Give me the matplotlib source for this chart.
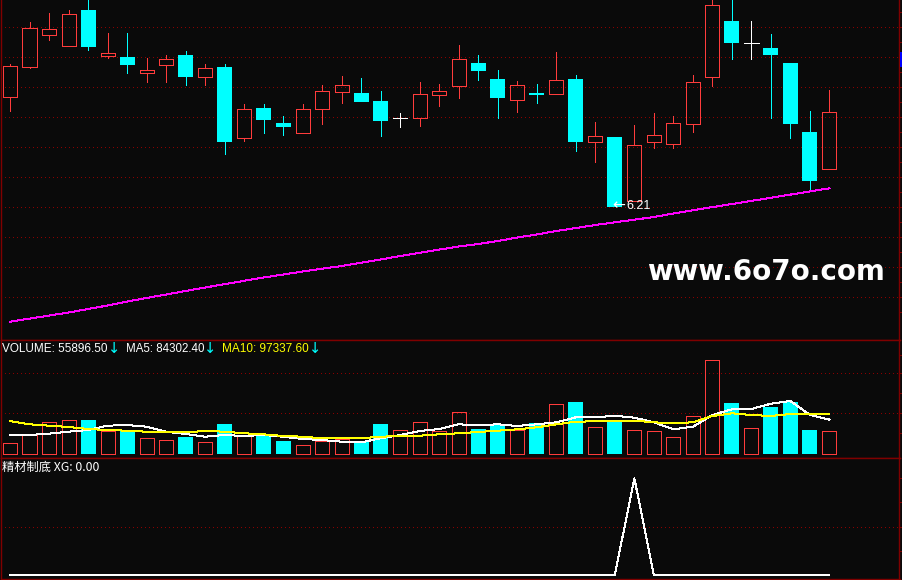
import matplotlib
matplotlib.use('Agg')
import matplotlib.pyplot as plt
from matplotlib.patches import Rectangle
from matplotlib import font_manager
import numpy as np

W, H = 903, 580
BG = '#0a0a0a'
RED = '#ff3c3c'
CYAN = '#00ffff'
BORDER = '#800000'
GRID = '#8c0000'
MAGENTA = '#ff00ff'

# ---------------- data ----------------
opens = [7.31, 7.61, 7.93, 7.82, 8.18, 7.72, 7.71, 7.55, 7.63, 7.73,
         7.51, 7.61, 6.90, 7.20, 7.05, 6.95, 7.19, 7.36, 7.35, 7.27,
         7.10, 7.10, 7.33, 7.42, 7.65, 7.49, 7.28, 7.35, 7.34, 7.49,
         6.86, 6.91, 6.27, 6.86, 6.84, 7.04, 7.51, 8.07, 7.85, 7.80,
         7.65, 6.96, 6.59]
highs = [7.64, 8.06, 8.15, 8.18, 8.31, 7.95, 7.95, 7.70, 7.73, 7.77,
         7.64, 7.64, 7.24, 7.24, 7.12, 7.24, 7.43, 7.52, 7.50, 7.37,
         7.15, 7.46, 7.44, 7.83, 7.73, 7.58, 7.47, 7.44, 7.76, 7.53,
         7.06, 6.91, 7.03, 7.15, 7.12, 7.53, 8.31, 8.32, 8.07, 7.94,
         7.65, 7.17, 7.38]
lows = [7.17, 7.60, 7.88, 7.82, 7.78, 7.70, 7.55, 7.46, 7.46, 7.43,
        7.43, 6.74, 6.87, 6.95, 6.93, 6.95, 7.04, 7.25, 7.26, 6.92,
        7.01, 7.02, 7.22, 7.30, 7.48, 7.10, 7.16, 7.25, 7.34, 6.77,
        6.66, 6.21, 6.27, 6.80, 6.80, 6.96, 7.42, 7.69, 7.69, 7.10,
        6.90, 6.39, 6.59]
closes = [7.62, 8.00, 7.99, 8.14, 7.81, 7.75, 7.63, 7.58, 7.69, 7.51,
          7.60, 6.86, 7.19, 7.08, 7.01, 7.19, 7.37, 7.43, 7.26, 7.07,
          7.10, 7.34, 7.37, 7.69, 7.57, 7.30, 7.43, 7.33, 7.48, 6.86,
          6.92, 6.21, 6.83, 6.93, 7.05, 7.46, 8.23, 7.85, 7.85, 7.73,
          7.04, 6.47, 7.16]
ma_price = [5.060, 5.091, 5.121, 5.152, 5.187, 5.222, 5.262, 5.297, 5.332, 5.367,
            5.402, 5.435, 5.469, 5.502, 5.532, 5.562, 5.590, 5.617, 5.649, 5.682,
            5.717, 5.749, 5.781, 5.812, 5.837, 5.867, 5.902, 5.932, 5.967, 5.997,
            6.027, 6.054, 6.080, 6.107, 6.142, 6.174, 6.206, 6.237, 6.268, 6.299,
            6.331, 6.363, 6.394]
volumes = [26730, 49330, 77760, 82620, 83350, 55890, 57350, 38880, 34020, 42770,
           29160, 73630, 43740, 46900, 32320, 21870, 32320, 37180, 30620, 73630,
           58320, 77760, 55890, 102060, 61480, 71930, 58320, 76060, 121500, 127090,
           65610, 83350, 58320, 55890, 41310, 92340, 228420, 124660, 63180, 114940,
           127820, 59050, 55896.50]
vol_ma5 = [46900, 46900, 50060, 54920, 59050, 69500, 71200, 67070, 54920, 49330,
           42770, 46900, 44470, 46900, 42770, 37180, 34750, 30620, 29160, 38880,
           46900, 56620, 61480, 72900, 70470, 72900, 68770, 72900, 77760, 89910,
           89910, 93800, 88940, 77760, 60750, 67070, 95500, 109350, 110080, 122960,
           129520, 95500, 84302.40]
vol_ma10 = [80920, 72900, 69500, 66340, 61480, 59050, 57350, 54920, 53460, 53460,
            56620, 54920, 51030, 48600, 44470, 42770, 38880, 38880, 38880, 42770,
            44470, 45200, 48600, 51030, 54190, 57350, 60750, 65610, 72900, 79220,
            80190, 81650, 81650, 77760, 75330, 77760, 93070, 99630, 95500, 93070,
            97930, 97200, 97337.60]
xg = [0, 0, 0, 0, 0, 0, 0, 0, 0, 0,
      0, 0, 0, 0, 0, 0, 0, 0, 0, 0,
      0, 0, 0, 0, 0, 0, 0, 0, 0, 0,
      0, 0, 1, 0, 0, 0, 0, 0, 0, 0,
      0, 0, 0]
indicator_name = '精材制底'
watermark = 'www.6o7o.com'

o = np.array(opens); h = np.array(highs); l = np.array(lows); c = np.array(closes)
x = np.arange(len(o))
up = c > o
down = c < o
doji = c == o


def pick_font(names):
    for n in names:
        try:
            font_manager.findfont(n, fallback_to_default=False)
            return n
        except Exception:
            pass
    return 'DejaVu Sans'

SANS = pick_font(['Liberation Sans', 'Arimo', 'Roboto', 'Noto Sans'])

# ---------------- layout ----------------
fig = plt.figure(figsize=(W / 100, H / 100), dpi=100, facecolor=BG)
renderer = fig.canvas.get_renderer()

def axes_px(top, bottom, left=1.0, right=899.5):
    return fig.add_axes([left / W, 1 - bottom / H, (right - left) / W, (bottom - top) / H])

ax = axes_px(0, 340)
axv = axes_px(340, 458)
axi = axes_px(458, 579)

XLIM = (-0.461, 45.59)
PX = 0.72  # one pixel in points

def P(ypx):
    return 8.277 - ypx / 100.0

def V(ypx):
    return (454.3 - ypx) * 2430.0

def XGv(ypx):
    return (575.0 - ypx) / 96.7

for a in (ax, axv, axi):
    a.set_facecolor(BG)
    a.set_xlim(*XLIM)
    a.set_xticks([])
    a.set_axisbelow(True)
    for s in a.spines.values():
        s.set_color(BORDER)
        s.set_linewidth(1.0)
    a.tick_params(axis='y', which='both', left=False, right=True, labelleft=False,
                  labelright=False, color=BORDER, width=PX, direction='out')
    a.tick_params(axis='y', which='major', length=3.5)
    a.tick_params(axis='y', which='minor', length=2.0)
ax.spines['top'].set_visible(False)

gridkw = dict(color=GRID, linestyle=(0, (1, 3)), linewidth=PX, antialiased=False)

# main price panel
ax.set_ylim(P(340), P(0))
ax.set_yticks([P(27 + 30 * k) for k in range(10)])
ax.set_yticks([P(12 + 30 * k) for k in range(11)], minor=True)
ax.yaxis.grid(True, which='major', **gridkw)

top_body = np.maximum(o, c)
bot_body = np.minimum(o, c)
for mask, col in ((up, RED), (down, CYAN), (doji, 'white')):
    ax.vlines(x[mask], top_body[mask], h[mask], color=col, linewidth=PX, antialiased=False, zorder=3)
    ax.vlines(x[mask], l[mask], bot_body[mask], color=col, linewidth=PX, antialiased=False, zorder=3)
ax.bar(x[up], (c - o)[up], bottom=o[up], width=0.72, facecolor='none', edgecolor=RED,
       linewidth=PX, antialiased=False, zorder=4)
ax.bar(x[down], (o - c)[down], bottom=c[down], width=0.77, color=CYAN, linewidth=0,
       antialiased=False, zorder=4)
ax.hlines(o[doji], x[doji] - 0.37, x[doji] + 0.37, color='white', linewidth=PX,
          antialiased=False, zorder=4)
ax.plot(x, ma_price, color=MAGENTA, linewidth=PX, antialiased=False, zorder=2)

# volume panel
axv.set_ylim(V(458), V(340))
axv.set_yticks([V(373.3), V(413.3)])
axv.set_yticks([V(355), V(393), V(433)], minor=True)
axv.yaxis.grid(True, which='major', **gridkw)
vol = np.array(volumes)
vred = c >= o
axv.bar(x[vred], vol[vred], width=0.72, facecolor='none', edgecolor=RED, linewidth=PX,
        antialiased=False, zorder=3)
axv.bar(x[~vred], vol[~vred], width=0.77, color=CYAN, linewidth=0, antialiased=False, zorder=3)
axv.plot(x, vol_ma5, color='white', linewidth=PX, antialiased=False, zorder=4)
axv.plot(x, vol_ma10, color='#ffff00', linewidth=PX, antialiased=False, zorder=4)

# indicator panel
axi.set_ylim(XGv(579), XGv(458))
axi.set_yticks([0.5])
axi.set_yticks([0.25, 0.75, 1.0], minor=True)
axi.yaxis.grid(True, which='major', **gridkw)
axi.plot(x, xg, color='white', linewidth=PX, antialiased=False, zorder=3)

# ---------------- texts ----------------
def ftext(xp, yp, s, width=None, **kw):
    """place text at pixel position; optionally scale font so that it spans `width` px"""
    t = fig.text(xp / W, 1 - yp / H, s, **kw)
    if width is not None:
        bb = t.get_window_extent(renderer)
        if bb.width > 0:
            t.set_fontsize(t.get_fontsize() * width / bb.width)
    return t

hdr = dict(fontsize=9.6, family=SANS, va='center', ha='left')
arr = dict(fontsize=10.5, family='DejaVu Sans', va='center', ha='left', color=CYAN)
ftext(2, 348.7, f'VOLUME: {volumes[-1]:.2f}', width=106, color='white', **hdr)
ftext(108, 348.7, '\u2193', **arr)
ftext(125.5, 348.7, f'MA5: {vol_ma5[-1]:.2f}', width=78.5, color='white', **hdr)
ftext(204, 348.7, '\u2193', **arr)
ftext(222.5, 348.7, f'MA10: {vol_ma10[-1]:.2f}', width=86.5, color='#ffff00', **hdr)
ftext(308.5, 348.7, '\u2193', **arr)

# lowest price label
imin = int(np.argmin(l))
lx = 10 + imin * 19.51
ftext(lx - 2.5, 206, '\u2190', width=13, color='white', fontsize=10, family='DejaVu Sans',
      ha='left', va='center', zorder=6)
ftext(626, 206, f'{l[imin]:.2f}', color='white', fontsize=9, family=SANS,
      ha='left', va='center', zorder=6)

ftext(2, 467, f'{indicator_name} XG: {xg[-1]:.2f}', width=98, color='white', fontsize=8.8,
      family=['Noto Sans CJK SC', 'DejaVu Sans'], va='center', ha='left')

ftext(647, 279.5, watermark, width=237, color='white', fontsize=20.2, fontweight='bold',
      family='DejaVu Sans', va='baseline', ha='left')

fig.patches.append(Rectangle((900.5 / W, 1 - 67 / H), 3 / W, 15 / H, transform=fig.transFigure,
                             facecolor='#0000ff', edgecolor='none'))

fig.savefig('out.png', dpi=100, facecolor=BG)
